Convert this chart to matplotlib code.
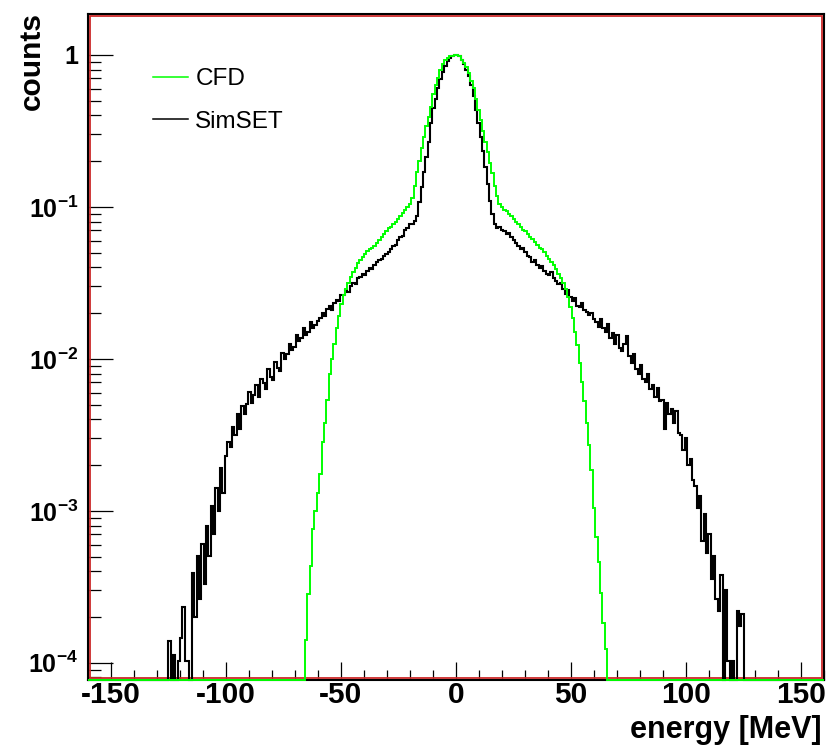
import numpy as np
import matplotlib
matplotlib.use("Agg")
import matplotlib.pyplot as plt
from matplotlib.lines import Line2D
from matplotlib.patches import Rectangle
from matplotlib.ticker import MultipleLocator, LogLocator, FixedLocator, FixedFormatter, NullFormatter

plt.rcParams["font.family"] = ["Liberation Sans", "DejaVu Sans"]
plt.rcParams["axes.unicode_minus"] = False
plt.rcParams["mathtext.fontset"] = "custom"
plt.rcParams["mathtext.rm"] = "Liberation Sans:bold"
plt.rcParams["mathtext.it"] = "Liberation Sans:bold"
plt.rcParams["mathtext.bf"] = "Liberation Sans:bold"

# histogram binning: 312 bins over [-160, 160] MeV, contents normalised to the peak
N_BINS = 312
X_RANGE = (-160.0, 160.0)

# log10(counts), None = empty bin
simset_first_bin = 31
simset_log = [
    None, None, None, -3.86, None, -3.95, None, -3.99, -3.84, -3.63,
    -3.99, -3.99, None, -3.41, -3.70, -3.30, -3.58, -3.22, -3.48, -3.10,
    -3.30, -2.97, -3.15, -2.85, -3.00, -2.72, -2.88, -2.64, -2.55, -2.58,
    -2.45, -2.50, -2.36, -2.46, -2.31, -2.36, -2.30, -2.22, -2.29, -2.24,
    -2.17, -2.25, -2.13, -2.16, -2.20, -2.07, -2.12, -2.14, -2.02, -2.06,
    -2.08, -1.96, -2.00, -1.97, -1.90, -1.94, -1.92, -1.84, -1.88, -1.86,
    -1.80, -1.84, -1.82, -1.76, -1.80, -1.78, -1.75, -1.73, -1.70, -1.72,
    -1.67, -1.65, -1.68, -1.63, -1.61, -1.62, -1.58, -1.58, -1.55, -1.56,
    -1.52, -1.50, -1.51, -1.47, -1.46, -1.44, -1.45, -1.42, -1.40, -1.41,
    -1.38, -1.36, -1.35, -1.34, -1.32, -1.31, -1.30, -1.28, -1.26, -1.25,
    -1.22, -1.20, -1.19, -1.15, -1.14, -1.11, -1.11, -1.09, -1.06, -0.97,
    -0.87, -0.77, -0.67, -0.57, -0.45, -0.35, -0.29, -0.22, -0.16, -0.11,
    -0.07, -0.04, -0.02, -0.01, 0.00,
    # right half
    0.00, -0.01, -0.03, -0.06, -0.10, -0.14, -0.20, -0.27, -0.36, -0.45,
    -0.54, -0.63, -0.74, -0.85, -0.96, -1.05, -1.11, -1.14, -1.13, -1.15,
    -1.16, -1.18, -1.17, -1.20, -1.22, -1.24, -1.26, -1.28, -1.27, -1.30,
    -1.32, -1.33, -1.36, -1.35, -1.38, -1.40, -1.39, -1.42, -1.44, -1.45,
    -1.43, -1.47, -1.49, -1.51, -1.50, -1.54, -1.57, -1.55, -1.59, -1.62,
    -1.60, -1.65, -1.66, -1.63, -1.68, -1.69, -1.71, -1.70, -1.74, -1.76,
    -1.79, -1.74, -1.80, -1.82, -1.77, -1.86, -1.83, -1.90, -1.84, -1.93,
    -1.95, -1.90, -1.85, -1.98, -2.03, -1.97, -2.07, -2.10, -2.04, -2.13,
    -2.15, -2.10, -2.20, -2.17, -2.25, -2.19, -2.28, -2.27, -2.46, -2.29,
    -2.36, -2.33, -2.42, -2.34, -2.49, -2.50, -2.60, -2.52, -2.70, -2.66,
    -2.80, -2.84, -2.98, -2.90, -3.20, -3.02, -3.28, -3.15, -3.45, -3.30,
    -3.58, -3.66, -3.42, None, -3.52, -3.99, None, -3.99, None, -3.66,
    -3.76, -3.68, None, None, None,
]

cfd_first_bin = 91
cfd_log = [
    None, -3.85, -3.55, -3.36, -3.12, -3.00, -2.88, -2.76, -2.55, -2.42,
    -2.27, -2.10, -2.00, -1.90, -1.80, -1.72, -1.64, -1.58, -1.54, -1.50,
    -1.46, -1.43, -1.40, -1.37, -1.35, -1.33, -1.31, -1.29, -1.28, -1.27,
    -1.26, -1.24, -1.22, -1.20, -1.18, -1.16, -1.14, -1.13, -1.11, -1.10,
    -1.08, -1.06, -1.04, -1.02, -1.00, -0.98, -0.94, -0.86, -0.77, -0.70,
    -0.61, -0.54, -0.47, -0.41, -0.34, -0.26, -0.20, -0.15, -0.10, -0.06,
    -0.035, -0.02, -0.01, -0.005, 0.00,
    # right half
    0.00, -0.01, -0.03, -0.05, -0.08, -0.12, -0.17, -0.22, -0.29, -0.36,
    -0.43, -0.50, -0.57, -0.64, -0.71, -0.78, -0.86, -0.93, -0.98, -1.00,
    -1.02, -1.03, -1.05, -1.06, -1.08, -1.10, -1.11, -1.13, -1.15, -1.16,
    -1.18, -1.20, -1.21, -1.23, -1.25, -1.27, -1.28, -1.30, -1.32, -1.34,
    -1.36, -1.38, -1.41, -1.44, -1.47, -1.50, -1.54, -1.59, -1.66, -1.73,
    -1.82, -1.91, -2.03, -2.15, -2.28, -2.42, -2.57, -2.73, -2.98, -3.17,
    -3.34, -3.54, -3.74, -3.91, None,
]

series_labels = ["CFD", "SimSET"]
x_ticks = [-150, -100, -50, 0, 50, 100, 150]
y_ticks = [1e-4, 1e-3, 1e-2, 1e-1, 1.0]
y_tick_labels = [r"$10^{-4}$", r"$10^{-3}$", r"$10^{-2}$", r"$10^{-1}$", "1"]

Y_MIN, Y_MAX = 7.7e-5, 1.86


def fill_hist(first_bin, logs):
    counts = np.zeros(N_BINS)
    for i, v in enumerate(logs):
        if v is not None:
            counts[first_bin + i] = 10.0 ** v
    # empty bins are drawn on the bottom of the frame, as ROOT does
    return np.where(counts > 0, counts, Y_MIN)


edges = np.linspace(X_RANGE[0], X_RANGE[1], N_BINS + 1)
simset = fill_hist(simset_first_bin, simset_log)
cfd = fill_hist(cfd_first_bin, cfd_log)

fig = plt.figure(figsize=(8.32, 7.49), dpi=100)
ax = fig.add_axes([88 / 832, 1 - 680 / 749, 736 / 832, 666 / 749])

ax.stairs(simset, edges, baseline=None, color="black", lw=1.5, zorder=3, clip_on=False)
ax.stairs(cfd, edges, baseline=None, color="#00ff00", lw=1.4, zorder=4, clip_on=False)

ax.set_yscale("log")
ax.set_xlim(*X_RANGE)
ax.set_ylim(Y_MIN, Y_MAX)

ax.xaxis.set_major_locator(FixedLocator(x_ticks))
ax.xaxis.set_minor_locator(MultipleLocator(10))
ax.yaxis.set_major_locator(FixedLocator(y_ticks))
ax.yaxis.set_major_formatter(FixedFormatter(y_tick_labels))
ax.yaxis.set_minor_locator(LogLocator(base=10, subs=np.arange(2, 10), numticks=20))
ax.yaxis.set_minor_formatter(NullFormatter())

ax.tick_params(axis="x", which="major", direction="in", length=13, width=0.9,
               pad=1, labelsize=21.5, top=False)
ax.tick_params(axis="x", which="minor", direction="in", length=7, width=0.9, top=False)
ax.tick_params(axis="y", which="major", direction="in", length=18, width=0.9,
               pad=7, labelsize=18, right=False)
ax.tick_params(axis="y", which="minor", direction="in", length=9.5, width=0.9, right=False)
for lab in ax.get_xticklabels() + ax.get_yticklabels():
    lab.set_fontweight("bold")

# ROOT frame: black outline with a red inner line
for sp in ax.spines.values():
    sp.set_color("black")
    sp.set_linewidth(1.5)
dx, dy = 2 / 736, 2 / 666
ax.add_patch(Rectangle((dx, dy), 1 - 2 * dx, 1 - 2 * dy, transform=ax.transAxes,
                       fill=False, edgecolor="#cc2a2a", lw=1.3, zorder=2.6, clip_on=False))

fig.text(822 / 832, 1 - 738 / 749, "energy [MeV]", ha="right", va="baseline",
         fontsize=22, fontweight="bold")
fig.text(31.5 / 832, 1 - 12 / 749, "counts", rotation=90, ha="center", va="top",
         fontsize=21.5, fontweight="bold")

handles = [Line2D([], [], color="#00ff00", lw=1.1), Line2D([], [], color="black", lw=1.1)]
ax.legend(handles, series_labels, loc="upper left",
          bbox_to_anchor=(153 / 832, 1 - 68 / 749), bbox_transform=fig.transFigure,
          frameon=False, borderpad=0, borderaxespad=0, fontsize=17.5,
          handlelength=1.44, handletextpad=0.3, labelspacing=0.85)

fig.savefig("out.png", dpi=100)
